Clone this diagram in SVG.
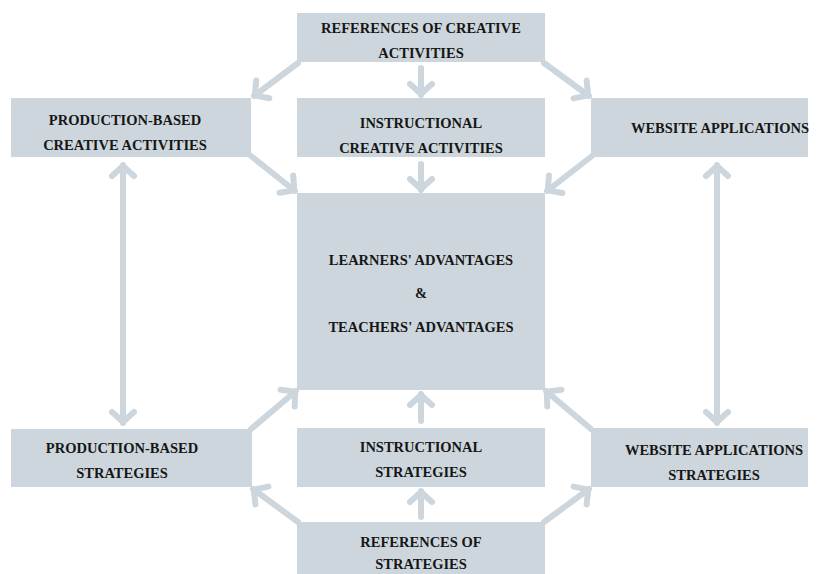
<svg xmlns="http://www.w3.org/2000/svg" width="820" height="574" viewBox="0 0 820 574">
  <style>
    .box { fill: #cdd6dd; }
    .lbl { font-family: "Liberation Serif", "Times New Roman", serif; font-weight: bold; font-size: 14.5px; fill: #161616; text-anchor: middle; }
    .link { stroke: #cdd6dd; stroke-width: 6; fill: none; stroke-linecap: round; }
  </style>
  <defs>
    <marker id="chev" markerUnits="userSpaceOnUse" viewBox="-16 -16 20 32" markerWidth="20" markerHeight="32" refX="0" refY="0" orient="auto-start-reverse">
      <path d="M-11,-11 L-1,0 L-11,11" fill="none" stroke="#cdd6dd" stroke-width="6" stroke-linecap="round" stroke-linejoin="round"/>
    </marker>
  </defs>
  <rect width="820" height="574" fill="#ffffff"/>

  <!-- connectors -->
  <g id="connectors">
    <line class="link" x1="298" y1="63" x2="254" y2="96" marker-end="url(#chev)"/>
    <line class="link" x1="544" y1="63" x2="589" y2="96" marker-end="url(#chev)"/>
    <line class="link" x1="421" y1="68" x2="421" y2="95" marker-end="url(#chev)"/>
    <line class="link" x1="251" y1="156" x2="295" y2="191" marker-end="url(#chev)"/>
    <line class="link" x1="592" y1="156" x2="547" y2="191" marker-end="url(#chev)"/>
    <line class="link" x1="421" y1="164" x2="421" y2="190" marker-end="url(#chev)"/>
    <line class="link" x1="123" y1="165" x2="123" y2="423" marker-start="url(#chev)" marker-end="url(#chev)"/>
    <line class="link" x1="717" y1="165" x2="717" y2="423" marker-start="url(#chev)" marker-end="url(#chev)"/>
    <line class="link" x1="251" y1="429" x2="296" y2="391" marker-end="url(#chev)"/>
    <line class="link" x1="421" y1="421" x2="421" y2="394" marker-end="url(#chev)"/>
    <line class="link" x1="591" y1="429" x2="546" y2="391" marker-end="url(#chev)"/>
    <line class="link" x1="298" y1="522" x2="253" y2="489" marker-end="url(#chev)"/>
    <line class="link" x1="421" y1="517" x2="421" y2="491" marker-end="url(#chev)"/>
    <line class="link" x1="544" y1="522" x2="589" y2="489" marker-end="url(#chev)"/>
  </g>

  <g id="ref-creative">
    <rect class="box" x="297" y="13" width="248" height="49"/>
    <text class="lbl" x="421" y="33">REFERENCES OF CREATIVE</text>
    <text class="lbl" x="421" y="58">ACTIVITIES</text>
  </g>

  <g id="production-creative">
    <rect class="box" x="11" y="98" width="240" height="59"/>
    <text class="lbl" x="125" y="125">PRODUCTION-BASED</text>
    <text class="lbl" x="125" y="150">CREATIVE ACTIVITIES</text>
  </g>

  <g id="instructional-creative">
    <rect class="box" x="297" y="98" width="248" height="59"/>
    <text class="lbl" x="421" y="128">INSTRUCTIONAL</text>
    <text class="lbl" x="421" y="153">CREATIVE ACTIVITIES</text>
  </g>

  <g id="website-applications">
    <rect class="box" x="591" y="98" width="217" height="59"/>
    <text class="lbl" x="720" y="133">WEBSITE APPLICATIONS</text>
  </g>

  <g id="advantages">
    <rect class="box" x="297" y="193" width="248" height="197"/>
    <text class="lbl" x="421" y="265">LEARNERS' ADVANTAGES</text>
    <text class="lbl" x="421" y="298">&amp;</text>
    <text class="lbl" x="421" y="332">TEACHERS' ADVANTAGES</text>
  </g>

  <g id="production-strategies">
    <rect class="box" x="11" y="429" width="241" height="58"/>
    <text class="lbl" x="122" y="453">PRODUCTION-BASED</text>
    <text class="lbl" x="122" y="478">STRATEGIES</text>
  </g>

  <g id="instructional-strategies">
    <rect class="box" x="297" y="428" width="248" height="59"/>
    <text class="lbl" x="421" y="452">INSTRUCTIONAL</text>
    <text class="lbl" x="421" y="477">STRATEGIES</text>
  </g>

  <g id="website-strategies">
    <rect class="box" x="591" y="428" width="217" height="59"/>
    <text class="lbl" x="714" y="455">WEBSITE APPLICATIONS</text>
    <text class="lbl" x="714" y="480">STRATEGIES</text>
  </g>

  <g id="ref-strategies">
    <rect class="box" x="297" y="522" width="248" height="60"/>
    <text class="lbl" x="421" y="547">REFERENCES OF</text>
    <text class="lbl" x="421" y="569">STRATEGIES</text>
  </g>
</svg>
